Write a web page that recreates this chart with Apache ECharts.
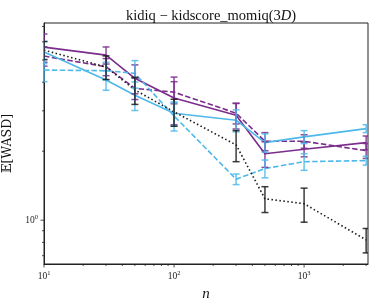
<!DOCTYPE html>
<html><head><meta charset="utf-8">
<script src="https://cdn.jsdelivr.net/npm/echarts@6/dist/echarts.min.js"></script>
<style>html,body{margin:0;padding:0;background:#fff}#c{width:374px;height:302px}</style>
</head><body><div id="c"></div>
<script>
// ---- data ----
const nValues = [10, 30, 50, 100, 300, 500, 1000, 3000];
const purpleSolid    = [5.69, 5.25, 4.16, 3.41, 2.87, 1.95, 2.04, 2.18];
const purpleSolidErr = [0.80, 0.45, 0.60, 0.80, 0.37, 0.25, 0.15, 0.15];
const purpleDashed    = [5.20, 4.67, 3.76, 3.62, 2.93, 2.21, 2.21, 2.01];
const purpleDashedErr = [0.50, 0.40, 0.40, 0.40, 0.30, 0.20, 0.15, 0.15];
const blueSolid    = [5.42, 4.09, 3.51, 2.93, 2.73, 2.18, 2.31, 2.51];
const blueSolidErr = [0.60, 0.40, 0.50, 0.35, 0.30, 0.20, 0.15, 0.10];
const blueDashed    = [4.52, 4.49, 4.37, 2.85, 1.51, 1.68, 1.80, 1.82];
const blueDashedErr = [0.50, 0.40, 0.60, 0.40, 0.08, 0.15, 0.15, 0.08];
const blackDotted    = [5.52, 4.66, 3.70, 2.97, 2.13, 1.24, 1.18, 0.82];
const blackDottedErr = [0.50, 0.55, 0.50, 0.40, 0.33, 0.16, 0.20, 0.10];

const xMajorTicks = [10, 100, 1000];
const xMinorTicks = [20, 30, 40, 50, 60, 70, 80, 90, 200, 300, 400, 500, 600, 700, 800, 900, 2000, 3000];
const yMajorTicks = [1];
const yMinorTicks = [0.7, 0.8, 0.9, 2, 3, 4, 5, 6, 7];

const X_MIN = 10, X_MAX = 3100, Y_MIN = 0.644, Y_MAX = 7.25;

const PURPLE = '#7B2C8C';
const BLUE = '#4DB8EA';
const BLACK = '#1a1a1a';
const AXIS = '#222';
const SERIF = '"Liberation Serif","DejaVu Serif",serif';

function pairs(ys) { return nValues.map((x, i) => [x, ys[i]]); }
function errData(ys, es) { return nValues.map((x, i) => [x, ys[i] - es[i], ys[i] + es[i]]); }

function errSeries(ys, es, color) {
  return {
    type: 'custom', clip: true, z: 3,
    data: errData(ys, es),
    encode: { x: 0, y: [1, 2] },
    renderItem: function (params, api) {
      const x = api.value(0);
      const lo = api.coord([x, api.value(1)]);
      const hi = api.coord([x, api.value(2)]);
      const cw = 3.5;
      const st = { stroke: color, lineWidth: 1.5, opacity: 0.85 };
      return { type: 'group', children: [
        { type: 'line', shape: { x1: lo[0], y1: lo[1], x2: hi[0], y2: hi[1] }, style: st },
        { type: 'line', shape: { x1: lo[0] - cw, y1: lo[1], x2: lo[0] + cw, y2: lo[1] }, style: st },
        { type: 'line', shape: { x1: hi[0] - cw, y1: hi[1], x2: hi[0] + cw, y2: hi[1] }, style: st }
      ]};
    }
  };
}
function lineSeries(ys, color, dash) {
  return {
    type: 'line', data: pairs(ys), symbol: 'none', z: 2,
    lineStyle: { color: color, width: 1.6, type: dash || 'solid', cap: 'butt' }
  };
}
function tickSeries(vals, isX, len) {
  return {
    type: 'custom', clip: false, z: 5, silent: true,
    data: vals.map(v => isX ? [v, Y_MIN] : [X_MIN, v]),
    renderItem: function (params, api) {
      const p = api.coord([api.value(0), api.value(1)]);
      const shape = isX ? { x1: p[0], y1: p[1], x2: p[0], y2: p[1] + len }
                        : { x1: p[0] - len, y1: p[1], x2: p[0], y2: p[1] };
      return { type: 'line', shape: shape, style: { stroke: AXIS, lineWidth: 0.8 } };
    }
  };
}
function sci(v) {
  const l = Math.log10(v);
  const e = Math.round(l);
  if (Math.abs(l - e) > 1e-6) return '';
  return '{b|10}{s|' + e + '}';
}
const labelRich = {
  b: { fontFamily: SERIF, fontSize: 9.5, color: AXIS },
  s: { fontFamily: SERIF, fontSize: 6.5, color: AXIS, padding: [0, 0, 6, 0] }
};

const chart = echarts.init(document.getElementById('c'), null, { renderer: 'canvas' });
chart.setOption({
  animation: false,
  backgroundColor: '#fff',
  title: {
    text: '{r|kidiq − kidscore_momiq(3}{i|D}{r|)}',
    left: 206, top: 4, textAlign: 'center',
    textStyle: { fontWeight: 'normal', rich: {
      r: { fontFamily: SERIF, fontSize: 14.5, fontWeight: 'normal', color: '#111' },
      i: { fontFamily: SERIF, fontSize: 14.5, fontWeight: 'normal', fontStyle: 'italic', color: '#111' }
    } }
  },
  grid: { left: 44, right: 6, top: 23, bottom: 38, outerBoundsMode: 'none', containLabel: false,
          show: true, borderColor: AXIS, borderWidth: 1, backgroundColor: 'transparent' },
  xAxis: {
    type: 'log', logBase: 10, min: X_MIN, max: X_MAX,
    name: 'n', nameLocation: 'middle', nameGap: 16,
    nameTextStyle: { fontFamily: SERIF, fontSize: 15, fontStyle: 'italic', color: '#111' },
    axisLine: { show: true, lineStyle: { color: AXIS, width: 1 } },
    axisTick: { show: false }, splitLine: { show: false },
    axisLabel: { margin: 6, formatter: sci, rich: labelRich }
  },
  yAxis: {
    type: 'log', logBase: 10, min: Y_MIN, max: Y_MAX,
    name: '𝔼[WASD]', nameLocation: 'middle', nameGap: 28, nameRotate: 90,
    nameTextStyle: { fontFamily: '"DejaVu Serif","DejaVu Sans",serif', fontSize: 12.5, color: '#111' },
    axisLine: { show: true, lineStyle: { color: AXIS, width: 1 } },
    axisTick: { show: false }, splitLine: { show: false },
    axisLabel: { margin: 6, formatter: sci, rich: labelRich }
  },
  series: [
    lineSeries(purpleSolid, PURPLE),
    errSeries(purpleSolid, purpleSolidErr, PURPLE),
    lineSeries(purpleDashed, PURPLE, [5.5, 2.4]),
    errSeries(purpleDashed, purpleDashedErr, PURPLE),
    lineSeries(blueSolid, BLUE),
    errSeries(blueSolid, blueSolidErr, BLUE),
    lineSeries(blueDashed, BLUE, [5.5, 2.4]),
    errSeries(blueDashed, blueDashedErr, BLUE),
    lineSeries(blackDotted, BLACK, [1.5, 2.5]),
    errSeries(blackDotted, blackDottedErr, BLACK),
    tickSeries(xMajorTicks, true, 3.5),
    tickSeries(xMinorTicks, true, 2),
    tickSeries(yMajorTicks, false, 3.5),
    tickSeries(yMinorTicks, false, 2)
  ]
});
</script></body></html>
